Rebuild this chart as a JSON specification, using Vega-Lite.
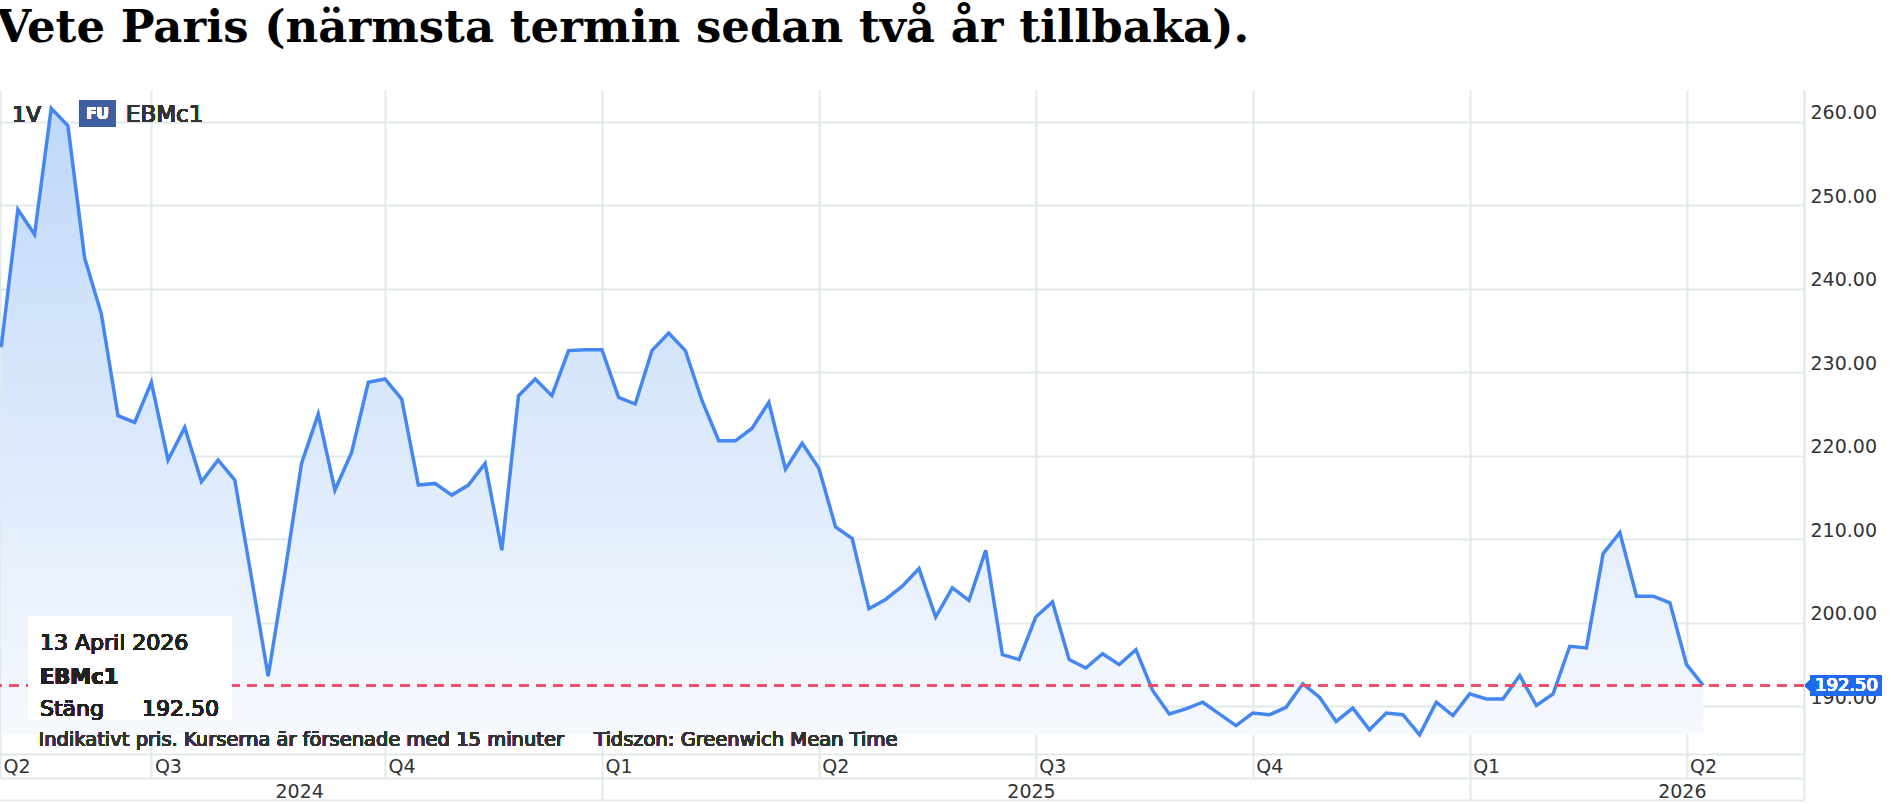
{
  "$schema": "https://vega.github.io/schema/vega-lite/v6.json",
  "width": 1804,
  "height": 664,
  "autosize": {"type": "none"},
  "padding": {"left": 0, "top": 90, "right": 87, "bottom": 50},
  "background": "white",
  "title": {
    "text": "Vete Paris (närmsta termin sedan två år tillbaka).",
    "anchor": "start",
    "font": "DejaVu Serif",
    "fontSize": 45,
    "fontWeight": "bold",
    "color": "#000000",
    "offset": 39,
    "dx": 2
  },
  "config": {
    "view": {"stroke": null},
    "font": "DejaVu Sans",
    "axis": {"labelFont": "DejaVu Sans", "labelFontSize": 19, "labelColor": "#333333"}
  },
  "data": {
    "values": [
      {"date": "2024-04-29", "value": 233.0},
      {"date": "2024-05-06", "value": 249.5},
      {"date": "2024-05-13", "value": 246.5},
      {"date": "2024-05-20", "value": 261.6},
      {"date": "2024-05-27", "value": 259.5},
      {"date": "2024-06-03", "value": 243.7},
      {"date": "2024-06-10", "value": 237.0},
      {"date": "2024-06-17", "value": 224.8},
      {"date": "2024-06-24", "value": 224.0},
      {"date": "2024-07-01", "value": 228.8},
      {"date": "2024-07-08", "value": 219.5},
      {"date": "2024-07-15", "value": 223.4},
      {"date": "2024-07-22", "value": 216.9},
      {"date": "2024-07-29", "value": 219.5},
      {"date": "2024-08-05", "value": 217.1},
      {"date": "2024-08-12", "value": 205.4},
      {"date": "2024-08-19", "value": 193.6},
      {"date": "2024-08-26", "value": 206.0},
      {"date": "2024-09-02", "value": 219.1},
      {"date": "2024-09-09", "value": 225.0},
      {"date": "2024-09-16", "value": 215.9},
      {"date": "2024-09-23", "value": 220.4},
      {"date": "2024-09-30", "value": 228.8},
      {"date": "2024-10-07", "value": 229.2},
      {"date": "2024-10-14", "value": 226.8},
      {"date": "2024-10-21", "value": 216.5},
      {"date": "2024-10-28", "value": 216.7},
      {"date": "2024-11-04", "value": 215.3},
      {"date": "2024-11-11", "value": 216.5},
      {"date": "2024-11-18", "value": 219.1},
      {"date": "2024-11-25", "value": 208.7},
      {"date": "2024-12-02", "value": 227.2},
      {"date": "2024-12-09", "value": 229.2},
      {"date": "2024-12-16", "value": 227.2},
      {"date": "2024-12-23", "value": 232.6},
      {"date": "2024-12-30", "value": 232.7},
      {"date": "2025-01-06", "value": 232.7},
      {"date": "2025-01-13", "value": 227.0},
      {"date": "2025-01-20", "value": 226.2},
      {"date": "2025-01-27", "value": 232.6},
      {"date": "2025-02-03", "value": 234.7},
      {"date": "2025-02-10", "value": 232.6},
      {"date": "2025-02-17", "value": 226.6},
      {"date": "2025-02-24", "value": 221.8},
      {"date": "2025-03-03", "value": 221.8},
      {"date": "2025-03-10", "value": 223.3},
      {"date": "2025-03-17", "value": 226.4},
      {"date": "2025-03-24", "value": 218.4},
      {"date": "2025-03-31", "value": 221.5},
      {"date": "2025-04-07", "value": 218.5},
      {"date": "2025-04-14", "value": 211.5},
      {"date": "2025-04-21", "value": 210.1},
      {"date": "2025-04-28", "value": 201.7},
      {"date": "2025-05-05", "value": 202.8},
      {"date": "2025-05-12", "value": 204.4},
      {"date": "2025-05-19", "value": 206.5},
      {"date": "2025-05-26", "value": 200.7},
      {"date": "2025-06-02", "value": 204.2},
      {"date": "2025-06-09", "value": 202.7},
      {"date": "2025-06-16", "value": 208.7},
      {"date": "2025-06-23", "value": 196.2},
      {"date": "2025-06-30", "value": 195.6},
      {"date": "2025-07-07", "value": 200.7},
      {"date": "2025-07-14", "value": 202.5},
      {"date": "2025-07-21", "value": 195.6},
      {"date": "2025-07-28", "value": 194.6},
      {"date": "2025-08-04", "value": 196.3},
      {"date": "2025-08-11", "value": 195.0},
      {"date": "2025-08-18", "value": 196.8},
      {"date": "2025-08-25", "value": 191.9},
      {"date": "2025-09-01", "value": 189.1},
      {"date": "2025-09-08", "value": 189.7},
      {"date": "2025-09-15", "value": 190.5},
      {"date": "2025-09-22", "value": 189.1},
      {"date": "2025-09-29", "value": 187.7},
      {"date": "2025-10-06", "value": 189.2},
      {"date": "2025-10-13", "value": 189.0},
      {"date": "2025-10-20", "value": 189.9},
      {"date": "2025-10-27", "value": 192.7},
      {"date": "2025-11-03", "value": 191.1},
      {"date": "2025-11-10", "value": 188.2},
      {"date": "2025-11-17", "value": 189.8},
      {"date": "2025-11-24", "value": 187.2},
      {"date": "2025-12-01", "value": 189.2},
      {"date": "2025-12-08", "value": 189.0},
      {"date": "2025-12-15", "value": 186.6},
      {"date": "2025-12-22", "value": 190.5},
      {"date": "2025-12-29", "value": 188.9},
      {"date": "2026-01-05", "value": 191.5},
      {"date": "2026-01-12", "value": 190.9},
      {"date": "2026-01-19", "value": 190.9},
      {"date": "2026-01-26", "value": 193.7},
      {"date": "2026-02-02", "value": 190.1},
      {"date": "2026-02-09", "value": 191.5},
      {"date": "2026-02-16", "value": 197.2},
      {"date": "2026-02-23", "value": 197.0},
      {"date": "2026-03-02", "value": 208.3},
      {"date": "2026-03-09", "value": 210.8},
      {"date": "2026-03-16", "value": 203.2},
      {"date": "2026-03-23", "value": 203.2},
      {"date": "2026-03-30", "value": 202.4},
      {"date": "2026-04-06", "value": 195.0},
      {"date": "2026-04-13", "value": 192.5}
    ]
  },
  "resolve": {"axis": {"x": "independent"}},
  "layer": [
    {
      "mark": {
        "type": "area",
        "color": {
          "gradient": "linear", "x1": 0, "y1": 0, "x2": 0, "y2": 1,
          "stops": [{"offset": 0, "color": "#bfd8f8"}, {"offset": 1, "color": "#f6f9fe"}]
        }
      },
      "encoding": {
        "x": {
          "field": "date", "type": "temporal",
          "scale": {"type": "utc", "domain": [
            {"year": 2024, "month": 4, "date": 28, "hours": 12, "utc": true},
            {"year": 2026, "month": 5, "date": 25, "hours": 6, "utc": true}
          ]},
          "axis": {
            "title": null, "orient": "bottom",
            "values": [
              {"year": 2024, "month": 4, "date": 28, "hours": 12, "utc": true},
              {"year": 2024, "month": 7, "date": 1, "utc": true},
              {"year": 2024, "month": 10, "date": 7, "utc": true},
              {"year": 2025, "month": 1, "date": 6, "utc": true},
              {"year": 2025, "month": 4, "date": 7, "utc": true},
              {"year": 2025, "month": 7, "date": 7, "utc": true},
              {"year": 2025, "month": 10, "date": 6, "utc": true},
              {"year": 2026, "month": 1, "date": 5, "utc": true},
              {"year": 2026, "month": 4, "date": 6, "utc": true},
              {"year": 2026, "month": 5, "date": 25, "hours": 6, "utc": true}
            ],
            "labelExpr": "time(datum.value) > 1779235200000 ? '' : 'Q' + utcquarter(datum.value)",
            "grid": true, "gridColor": "#e2e9e9", "gridWidth": 2,
            "ticks": true, "tickSize": 24, "tickColor": "#e2e9e9", "tickWidth": 2,
            "domain": true, "domainColor": "#e2e9e9", "domainWidth": 2,
            "labelAlign": "left", "labelBaseline": "middle", "labelPadding": -12, "labelOffset": 3,
            "labelOverlap": false, "labelFlush": false, "labelBound": false
          }
        },
        "y": {
          "field": "value", "type": "quantitative",
          "scale": {"domain": [184.3, 263.8], "zero": false, "nice": false},
          "axis": {
            "title": null, "orient": "right",
            "values": [190, 200, 210, 220, 230, 240, 250, 260],
            "format": ".2f",
            "grid": true, "gridColor": "#e2e9e9", "gridWidth": 2,
            "ticks": false,
            "domain": true, "domainColor": "#e2e9e9", "domainWidth": 2,
            "labelPadding": 6, "labelBaseline": "alphabetic", "labelOffset": -3
          }
        },
        "y2": {"datum": 186.6}
      }
    },
    {
      "mark": {"type": "line", "color": "#4587f2", "strokeWidth": 3.5, "strokeJoin": "miter"},
      "encoding": {
        "x": {
          "field": "date", "type": "temporal",
          "axis": {
            "title": null, "orient": "bottom", "offset": 24,
            "values": [
              {"year": 2025, "month": 1, "date": 6, "utc": true},
              {"year": 2026, "month": 1, "date": 5, "utc": true},
              {"year": 2026, "month": 5, "date": 25, "hours": 6, "utc": true}
            ],
            "grid": false, "labels": false,
            "ticks": true, "tickSize": 22, "tickColor": "#e2e9e9", "tickWidth": 2,
            "domain": true, "domainColor": "#e2e9e9", "domainWidth": 2
          }
        },
        "y": {"field": "value", "type": "quantitative"}
      }
    },
    {
      "mark": {"type": "rule", "color": "#f04f6b", "strokeWidth": 2, "strokeDash": [10, 7]},
      "encoding": {"y": {"datum": 192.5, "type": "quantitative"}}
    },
    {
      "mark": {"type": "rect", "color": "#ffffff", "opacity": 0.78},
      "encoding": {
        "x": {"datum": {"year": 2024, "month": 5, "date": 10, "hours": 6, "utc": true}, "type": "temporal", "axis": null},
        "x2": {"datum": {"year": 2024, "month": 8, "date": 3, "hours": 19, "minutes": 40, "utc": true}},
        "y": {"datum": 200.82, "type": "quantitative"},
        "y2": {"datum": 188.37}
      }
    },
    {
      "mark": {"type": "text", "text": "13 April 2026", "align": "left", "baseline": "middle", "fontSize": 22, "color": "#222222"},
      "encoding": {
        "x": {"datum": {"year": 2024, "month": 5, "date": 15, "hours": 6, "minutes": 40, "utc": true}, "type": "temporal", "axis": null},
        "y": {"datum": 197.62, "type": "quantitative"}
      }
    },
    {
      "mark": {"type": "text", "text": "EBMc1", "align": "left", "baseline": "middle", "fontSize": 21, "fontWeight": "bold", "color": "#222222"},
      "encoding": {
        "x": {"datum": {"year": 2024, "month": 5, "date": 15, "hours": 6, "minutes": 40, "utc": true}, "type": "temporal", "axis": null},
        "y": {"datum": 193.36, "type": "quantitative"}
      }
    },
    {
      "mark": {"type": "text", "text": "Stäng", "align": "left", "baseline": "middle", "fontSize": 22, "color": "#222222"},
      "encoding": {
        "x": {"datum": {"year": 2024, "month": 5, "date": 15, "hours": 6, "minutes": 40, "utc": true}, "type": "temporal", "axis": null},
        "y": {"datum": 189.69, "type": "quantitative"}
      }
    },
    {
      "mark": {"type": "text", "text": "192.50", "align": "left", "baseline": "middle", "fontSize": 22, "color": "#222222"},
      "encoding": {
        "x": {"datum": {"year": 2024, "month": 6, "date": 27, "hours": 1, "minutes": 40, "utc": true}, "type": "temporal", "axis": null},
        "y": {"datum": 189.69, "type": "quantitative"}
      }
    },
    {
      "mark": {"type": "text", "text": "Indikativt pris. Kurserna är försenade med 15 minuter", "align": "left", "baseline": "middle", "fontSize": 19.5, "color": "#333333"},
      "encoding": {
        "x": {"datum": {"year": 2024, "month": 5, "date": 14, "hours": 14, "minutes": 30, "utc": true}, "type": "temporal", "axis": null},
        "y": {"datum": 185.99, "type": "quantitative"}
      }
    },
    {
      "mark": {"type": "text", "text": "Tidszon: Greenwich Mean Time", "align": "left", "baseline": "middle", "fontSize": 19.5, "color": "#333333"},
      "encoding": {
        "x": {
          "datum": {"year": 2025, "month": 1, "date": 2, "hours": 17, "utc": true}, "type": "temporal",
          "axis": {
            "title": null, "orient": "bottom", "offset": 24,
            "values": [
              {"year": 2024, "month": 9, "date": 1, "utc": true},
              {"year": 2025, "month": 7, "date": 5, "utc": true},
              {"year": 2026, "month": 4, "date": 4, "utc": true}
            ],
            "labelExpr": "'' + utcyear(datum.value)",
            "grid": false, "ticks": false, "domain": false,
            "labelAlign": "center", "labelBaseline": "middle", "labelPadding": 13,
            "labelOverlap": false, "labelFlush": false, "labelBound": false
          }
        },
        "y": {"datum": 185.99, "type": "quantitative"}
      }
    },
    {
      "mark": {"type": "text", "text": "1V", "align": "left", "baseline": "middle", "fontSize": 22, "color": "#333333"},
      "encoding": {
        "x": {
          "datum": {"year": 2024, "month": 5, "date": 3, "hours": 13, "utc": true}, "type": "temporal",
          "axis": {
            "title": null, "orient": "bottom", "offset": 46,
            "grid": false, "ticks": false, "labels": false,
            "domain": true, "domainColor": "#e2e9e9", "domainWidth": 2
          }
        },
        "y": {"datum": 260.81, "type": "quantitative"}
      }
    },
    {
      "mark": {"type": "rect", "color": "#3f5f9e"},
      "encoding": {
        "x": {"datum": {"year": 2024, "month": 6, "date": 1, "hours": 1, "utc": true}, "type": "temporal", "axis": null},
        "x2": {"datum": {"year": 2024, "month": 6, "date": 15, "hours": 18, "utc": true}},
        "y": {"datum": 262.6, "type": "quantitative"},
        "y2": {"datum": 259.37}
      }
    },
    {
      "mark": {"type": "text", "text": "FU", "align": "center", "baseline": "middle", "fontSize": 15, "fontWeight": "bold", "color": "#ffffff"},
      "encoding": {
        "x": {"datum": {"year": 2024, "month": 6, "date": 8, "hours": 9, "minutes": 30, "utc": true}, "type": "temporal", "axis": null},
        "y": {"datum": 260.95, "type": "quantitative"}
      }
    },
    {
      "mark": {"type": "text", "text": "EBMc1", "align": "left", "baseline": "middle", "fontSize": 23, "color": "#333333"},
      "encoding": {
        "x": {"datum": {"year": 2024, "month": 6, "date": 20, "hours": 8, "utc": true}, "type": "temporal", "axis": null},
        "y": {"datum": 260.81, "type": "quantitative"}
      }
    },
    {
      "mark": {"type": "point", "shape": "M 1 0 L 6 -5 L 6 -10 L 78 -10 L 78 10 L 6 10 L 6 5 Z", "size": 4, "filled": true, "color": "#1f6bf0", "opacity": 1, "strokeWidth": 0},
      "encoding": {
        "x": {"datum": {"year": 2026, "month": 5, "date": 25, "hours": 6, "utc": true}, "type": "temporal", "axis": null},
        "y": {"datum": 192.5, "type": "quantitative"}
      }
    },
    {
      "mark": {"type": "text", "text": "192.50", "align": "left", "baseline": "middle", "fontSize": 18, "color": "#ffffff", "dx": 11},
      "encoding": {
        "x": {"datum": {"year": 2026, "month": 5, "date": 25, "hours": 6, "utc": true}, "type": "temporal", "axis": null},
        "y": {"datum": 192.5, "type": "quantitative"}
      }
    }
  ]
}
